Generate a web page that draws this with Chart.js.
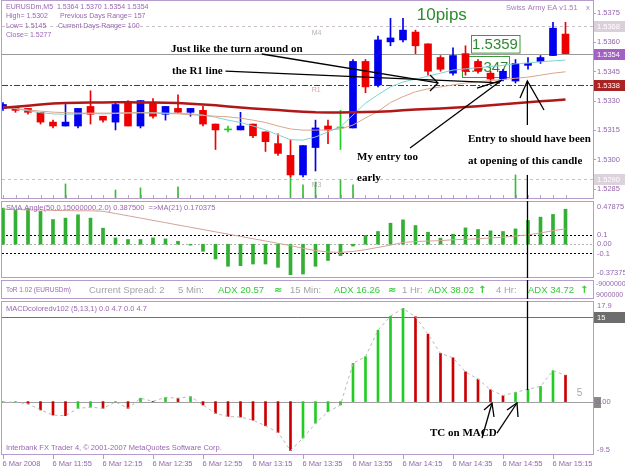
<!DOCTYPE html>
<html><head><meta charset="utf-8">
<script src="https://cdn.jsdelivr.net/npm/chart.js@4.4.1/dist/chart.umd.min.js"></script>
<style>
html,body{margin:0;padding:0;background:#fff;}
body{width:625px;height:469px;position:relative;overflow:hidden;}
canvas{position:absolute;left:0;}
</style></head><body>
<canvas id="cMain" width="625" height="200" style="top:0px"></canvas>
<canvas id="cSma" width="625" height="79" style="top:200px"></canvas>
<canvas id="cTor" width="625" height="21" style="top:279px"></canvas>
<canvas id="cMacd" width="625" height="169" style="top:300px"></canvas>
<script>
// ================= DATA =================
const timeLabels = ['6 Mar 2008','6 Mar 11:55','6 Mar 12:15','6 Mar 12:35','6 Mar 12:55','6 Mar 13:15','6 Mar 13:35','6 Mar 13:55','6 Mar 14:15','6 Mar 14:35','6 Mar 14:55','6 Mar 15:15'];
const timeLabelBars = [0,4,8,12,16,20,24,28,32,36,40,44];

const opens  = [1.5326,1.5327,1.5326,1.5324,1.5319,1.5317,1.5317,1.5327,1.5322,1.5319,1.5329,1.5317,1.5329,1.5323,1.5326,1.5324,1.5325,1.5318,1.5315,1.5315,1.5318,1.5314,1.5308,1.5302,1.5292,1.5306,1.5317,1.5316,1.5316,1.5350,1.5338,1.5360,1.5361,1.5365,1.5359,1.5352,1.5344,1.5354,1.5350,1.5344,1.5341,1.5340,1.5348,1.5350,1.5353,1.5364];
const highs  = [1.5329,1.5327,1.5326,1.5324,1.5320,1.5328,1.5326,1.5335,1.5322,1.5329,1.5330,1.5330,1.5331,1.5327,1.5333,1.5326,1.5327,1.5318,1.5317,1.5324,1.5318,1.5314,1.5313,1.5310,1.5307,1.5320,1.5320,1.5325,1.5351,1.5351,1.5363,1.5372,1.5372,1.5366,1.5359,1.5353,1.5357,1.5358,1.5351,1.5345,1.5346,1.5351,1.5352,1.5353,1.5370,1.5370];
const lows   = [1.5325,1.5324,1.5323,1.5318,1.5316,1.5317,1.5316,1.5318,1.5319,1.5315,1.5317,1.5316,1.5321,1.5320,1.5324,1.5322,1.5317,1.5305,1.5314,1.5315,1.5311,1.5304,1.5302,1.5291,1.5291,1.5294,1.5308,1.5305,1.5316,1.5334,1.5337,1.5358,1.5360,1.5354,1.5343,1.5345,1.5343,1.5343,1.5344,1.5339,1.5340,1.5339,1.5346,1.5349,1.5353,1.5354];
const closes = [1.5328,1.5325,1.5324,1.5319,1.5317,1.5319,1.5326,1.5323,1.5320,1.5328,1.5317,1.5330,1.5322,1.5327,1.5324,1.5326,1.5318,1.5315,1.5315,1.5317,1.5312,1.5309,1.5303,1.5292,1.5307,1.5316,1.5315,1.5316,1.5350,1.5337,1.5361,1.5362,1.5366,1.5358,1.5345,1.5346,1.5353,1.5345,1.5345,1.5341,1.5345,1.5349,1.5349,1.5352,1.5367,1.5354];

const maSlow = [1.53263,1.53268,1.53274,1.53280,1.53285,1.53288,1.53289,1.53290,1.53290,1.53291,1.53291,1.53290,1.53290,1.53289,1.53288,1.53284,1.53280,1.53276,1.53270,1.53265,1.53260,1.53256,1.53252,1.53247,1.53243,1.53240,1.53239,1.53239,1.53240,1.53241,1.53243,1.53246,1.53250,1.53254,1.53257,1.53260,1.53263,1.53267,1.53271,1.53276,1.53281,1.53286,1.53291,1.53296,1.53301,1.53306];
const maMid  = [1.53267,1.53260,1.53252,1.53246,1.53241,1.53238,1.53236,1.53236,1.53236,1.53236,1.53238,1.53238,1.53236,1.53234,1.53232,1.53228,1.53224,1.53220,1.53217,1.53210,1.53200,1.53188,1.53170,1.53155,1.53149,1.53149,1.53150,1.53155,1.53175,1.53211,1.53245,1.53290,1.53320,1.53345,1.53360,1.53370,1.53380,1.53390,1.53396,1.53402,1.53408,1.53414,1.53420,1.53430,1.53440,1.53447];
const maFast = [1.53267,1.53258,1.53248,1.53238,1.53232,1.53230,1.53232,1.53234,1.53232,1.53234,1.53236,1.53238,1.53238,1.53236,1.53235,1.53232,1.53226,1.53215,1.53200,1.53188,1.53170,1.53150,1.53125,1.53100,1.53098,1.53114,1.53140,1.53166,1.53226,1.53287,1.53330,1.53370,1.53395,1.53410,1.53425,1.53440,1.53456,1.53462,1.53468,1.53474,1.53480,1.53488,1.53492,1.53498,1.53503,1.53507];

const greenMarkBars = [5,9,11,14,23,24,25,27,28,41];
const greenMarkTops = [1.52874,1.52843,1.52854,1.52859,1.52920,1.52869,1.52884,1.52895,1.52869,1.52920];

const priceTicks = [1.5375,1.5360,1.5345,1.5330,1.5315,1.5300,1.5285];
const priceMarkers = [1.5368,1.5354,1.5338,1.5290];

const smaAngle   = [0.40,0.374,0.393,0.363,0.274,0.289,0.326,0.289,0.178,0.070,0.052,0.052,0.070,0.059,0.033,-0.01,-0.078,-0.163,-0.244,-0.237,-0.219,-0.219,-0.256,-0.337,-0.330,-0.244,-0.18,-0.126,-0.02,0.096,0.141,0.233,0.27,0.207,0.133,0.067,0.111,0.181,0.163,0.148,0.141,0.170,0.263,0.30,0.33,0.3875];
const smaAngleMA = [0.39,0.385,0.38,0.378,0.375,0.372,0.37,0.37,0.365,0.34,0.315,0.29,0.264,0.239,0.213,0.188,0.163,0.137,0.112,0.087,0.061,0.036,0.01,-0.015,-0.045,-0.07,-0.085,-0.09,-0.08,-0.06,-0.035,-0.01,0.02,0.03,0.035,0.04,0.05,0.055,0.06,0.07,0.078,0.09,0.104,0.125,0.15,0.170375];
const smaTicks = [0.1,0.0,-0.1];

const macd = [-0.1,-0.1,-0.4,-1.5,-2.4,-2.5,-1.2,-1.0,-1.2,-0.05,-1.2,0.6,0.05,0.75,0.6,0.9,-0.6,-2.1,-2.65,-2.75,-3.3,-4.3,-5.5,-8.7,-6.5,-3.85,-1.8,-0.6,6.8,8.0,12.7,15.2,16.6,15.1,12.0,8.6,7.8,5.3,4.0,2.1,1.07,1.66,2.2,2.7,5.5,4.7];

// ================= STYLE / LAYOUT =================
const X_MIN = -0.08, X_MAX = 47.2;
const PRICE_MIN = 1.52797, PRICE_MAX = 1.53814;
const FONT = '"Liberation Sans", Arial, sans-serif';
const SERIF = '"Liberation Serif", "Times New Roman", serif';
const AXIS_COL = '#9466ad';
const BORDER_COL = '#b79bca';
const BULL = '#0000ee', BEAR = '#ee0000', DOJI = '#22cc22';
const ENTRY_BAR = 41.95;

function T(ctx, s, x, y, font, col, align, base){
  ctx.save(); ctx.font = font; ctx.fillStyle = col; ctx.textAlign = align || 'left';
  ctx.textBaseline = base || 'middle'; ctx.fillText(s, x, y); ctx.restore();
}
function L(ctx, pts, col, w, dash){
  ctx.save(); ctx.beginPath(); ctx.strokeStyle = col; ctx.lineWidth = w || 1; ctx.setLineDash(dash || []);
  pts.forEach((p,k)=> k ? ctx.lineTo(p[0],p[1]) : ctx.moveTo(p[0],p[1])); ctx.stroke(); ctx.restore();
}
function border(c){
  const a = c.chartArea, ctx = c.ctx;
  ctx.save(); ctx.strokeStyle = BORDER_COL; ctx.lineWidth = 1;
  ctx.strokeRect(a.left - 0.5, a.top + 0.5, a.right - a.left + 1, a.bottom - a.top - 1);
  ctx.fillStyle = BORDER_COL; ctx.fillRect(a.left - 1, a.top, 1, a.bottom - a.top);
  ctx.restore();
}
function box(ctx, y, txt, bg, fg){
  ctx.save(); ctx.fillStyle = bg; ctx.fillRect(594, Math.round(y) - 5, 31, 11); ctx.restore();
  T(ctx, txt, 597, Math.round(y) + 0.5, '7.5px ' + FONT, fg);
}
function common(padTop, padBottom, ymin, ymax){
  return {
    responsive:false, animation:false, devicePixelRatio:1, events:[],
    layout:{padding:{left:2,right:32,top:padTop,bottom:padBottom}},
    plugins:{legend:{display:false},tooltip:{enabled:false},title:{display:false}},
    scales:{
      x:{type:'linear',min:X_MIN,max:X_MAX,display:false,offset:false},
      y:{type:'linear',min:ymin,max:ymax,display:false}
    }
  };
}
const idx = opens.map((_, i) => i);
const candleCol = idx.map(i => closes[i] > opens[i] ? BULL : (closes[i] < opens[i] ? BEAR : DOJI));

// ================= MAIN PRICE PANEL =================
const mainPlugin = {
  id:'mainPlugin',
  beforeDatasetsDraw(c){
    const ctx = c.ctx, a = c.chartArea, X = v => c.scales.x.getPixelForValue(v), Y = v => Math.round(c.scales.y.getPixelForValue(v)) + 0.5;
    L(ctx, [[a.left, Y(1.5368)], [a.right, Y(1.5368)]], '#c9c0c9', 1, [3,3]);
    L(ctx, [[a.left, Y(1.5354)], [a.right, Y(1.5354)]], '#9a9a9a', 1);
    L(ctx, [[a.left, Y(1.5338)], [a.right, Y(1.5338)]], '#8b2020', 1, [6,2,2,2]);
    L(ctx, [[a.left, Y(1.5290)], [a.right, Y(1.5290)]], '#c9c0c9', 1, [3,3]);
    T(ctx, 'M4', X(24.7), Y(1.5368) + 7, '7px ' + FONT, '#b8b0b8');
    T(ctx, 'R1', X(24.7), Y(1.5338) + 5, '7px ' + FONT, '#d9a3a3');
    T(ctx, 'M3', X(24.7), Y(1.5290) + 6, '7px ' + FONT, '#b8b0b8');
    ctx.save(); ctx.strokeStyle = '#3d9b3d'; ctx.lineWidth = 1;
    const bx1 = X(36.72), bx2 = X(40.48), by1 = Y(1.53528), by2 = Y(1.53421);
    ctx.strokeRect(Math.round(bx1)+0.5, by1, bx2 - bx1, by2 - by1); ctx.restore();
    T(ctx, '1.5347', (bx1 + bx2) / 2, (by1 + by2) / 2 + 1, '15px ' + FONT, '#2f8a2f', 'center');
    idx.forEach(i => L(ctx, [[Math.round(X(i)) + 0.5, a.bottom - 4], [Math.round(X(i)) + 0.5, a.bottom]], '#b5a5c5', 1));
  },
  afterDraw(c){
    const ctx = c.ctx, a = c.chartArea, X = v => c.scales.x.getPixelForValue(v), Y = v => c.scales.y.getPixelForValue(v);
    border(c);
    priceTicks.forEach(v => {
      L(ctx, [[a.right, Math.round(Y(v)) + 0.5], [a.right + 3, Math.round(Y(v)) + 0.5]], BORDER_COL, 1);
      T(ctx, v.toFixed(4), 597, Y(v) + 0.5, '7.5px ' + FONT, AXIS_COL);
    });
    box(ctx, Y(priceMarkers[0]), priceMarkers[0].toFixed(4), '#dccfdc', '#ffffff');
    box(ctx, Y(priceMarkers[1]), priceMarkers[1].toFixed(4), '#a361c6', '#ffffff');
    box(ctx, Y(priceMarkers[2]), priceMarkers[2].toFixed(4), '#a82424', '#ffffff');
    box(ctx, Y(priceMarkers[3]), priceMarkers[3].toFixed(4), '#dcd2dc', '#ffffff');
    const f7 = '7px ' + FONT, pc = '#9966b0';
    T(ctx, 'EURUSDm,M5  ' + [opens[45], highs[45], lows[45], closes[45]].map(v => v.toFixed(4)).join(' '), 6, 7, f7, pc);
    T(ctx, 'High= 1.5302', 6, 16.5, f7, pc);  T(ctx, 'Previous Days Range= 157', 60, 16.5, f7, pc);
    T(ctx, 'Low= 1.5145', 6, 26, f7, pc);   T(ctx, 'Current Days Range= 100', 58, 26, f7, pc);
    T(ctx, 'Close= 1.5277', 6, 35.5, f7, pc);
    T(ctx, 'Swiss Army EA v1.51', 506, 8, '7.5px ' + FONT, '#a77bbd');
    T(ctx, 'x', 586, 8, '7.5px ' + FONT, '#a77bbd');
    T(ctx, '10pips', X(33.1), Y(1.53737), '17px ' + FONT, '#2e8b2e');
    ctx.save(); const b1 = X(37.42), b2 = X(41.3), t1 = Y(1.53635), t2 = Y(1.53545);
    ctx.fillStyle = '#ffffff'; ctx.fillRect(b1, t1, b2 - b1, t2 - t1);
    ctx.strokeStyle = '#3d9b3d'; ctx.lineWidth = 1; ctx.strokeRect(Math.round(b1)+0.5, Math.round(t1)+0.5, b2 - b1, t2 - t1); ctx.restore();
    T(ctx, '1.5359', (b1 + b2) / 2, (t1 + t2) / 2 + 1, '15px ' + FONT, '#2f8a2f', 'center');
    const sf = 'bold 11px ' + SERIF, k = '#000';
    T(ctx, 'Just like the turn around on', X(13.44), Y(1.53563), sf, k);
    T(ctx, 'the R1 line', X(13.52), Y(1.53451), sf, k);
    T(ctx, 'My entry too', X(28.32), Y(1.53012), sf, k);
    T(ctx, 'early', X(28.32), Y(1.52905), sf, k);
    T(ctx, 'Entry to should have been', X(37.2), Y(1.53104), sf, k);
    T(ctx, 'at opening of this candle', X(37.2), Y(1.52992), sf, k);
    const P = (i, p) => [X(i), Y(p)];
    L(ctx, [P(20.7, 1.53538), P(34.8, 1.53390)], k, 1.3);
    L(ctx, [P(34.16, 1.53431), P(34.8, 1.53390), P(34.16, 1.53349)], k, 1.3);
    L(ctx, [P(17.8, 1.53451), P(39.76, 1.53390)], k, 1.3);
    L(ctx, [P(32.56, 1.53058), P(39.92, 1.53405)], k, 1.3);
    L(ctx, [P(37.92, 1.53364), P(39.92, 1.53405)], k, 1.3);
    L(ctx, [P(41.36, 1.53313), P(ENTRY_BAR, 1.53400), P(43.28, 1.53252)], k, 1.3);
    L(ctx, [P(ENTRY_BAR, 1.53400), P(ENTRY_BAR, 1.53175)], k, 1.3);
    L(ctx, [P(ENTRY_BAR, 1.52920), [X(ENTRY_BAR), a.bottom]], k, 1.3);
  }
};
new Chart(document.getElementById('cMain'), {
  type:'bar',
  data:{datasets:[
    {type:'line', data: idx.map(i => ({x:i, y:maSlow[i]})), borderColor:'#b01818', borderWidth:2.5, pointRadius:0, order:0},
    {type:'line', data: idx.map(i => ({x:i, y:maMid[i]})), borderColor:'#d9a58c', borderWidth:1, pointRadius:0, order:1},
    {type:'line', data: idx.map(i => ({x:i, y:maFast[i]})), borderColor:'#7fd3d3', borderWidth:1, pointRadius:0, order:1},
    {data: greenMarkBars.map((b, j) => ({x:b, y:[PRICE_MIN, greenMarkTops[j]]})), backgroundColor:'#3cb83c', barThickness:1, grouped:false, order:5},
    {data: idx.map(i => ({x:i, y:[lows[i], highs[i]]})), backgroundColor: candleCol, barThickness:1, grouped:false, order:4},
    {data: idx.map(i => ({x:i, y:[opens[i], closes[i]]})), backgroundColor: candleCol, barThickness:7, minBarLength:1, grouped:false, order:3}
  ]},
  options: common(0, 1, PRICE_MIN, PRICE_MAX),
  plugins:[mainPlugin]
});

// ================= SMA ANGLE PANEL =================
const smaPlugin = {
  id:'smaPlugin',
  beforeDatasetsDraw(c){
    const ctx = c.ctx, a = c.chartArea, Y = v => Math.round(c.scales.y.getPixelForValue(v)) + 0.5;
    L(ctx, [[a.left, Y(smaTicks[0])], [a.right, Y(smaTicks[0])]], '#000', 1, [2,2]);
    L(ctx, [[a.left, Y(smaTicks[1])], [a.right, Y(smaTicks[1])]], '#b0b0b0', 1, [2,2]);
    L(ctx, [[a.left, Y(smaTicks[2])], [a.right, Y(smaTicks[2])]], '#000', 1, [2,2]);
  },
  afterDraw(c){
    const ctx = c.ctx, a = c.chartArea, X = v => c.scales.x.getPixelForValue(v), Y = v => c.scales.y.getPixelForValue(v);
    border(c);
    const f = '7.5px ' + FONT;
    T(ctx, c.scales.y.max.toFixed(5), 597, a.top + 6, f, AXIS_COL);
    T(ctx, '0.1', 597, Y(smaTicks[0]), f, AXIS_COL);
    T(ctx, '0.00', 597, Y(smaTicks[1]), f, AXIS_COL);
    T(ctx, '-0.1', 597, Y(smaTicks[2]) + 1, f, AXIS_COL);
    T(ctx, c.scales.y.min.toFixed(5), 597, a.bottom - 5, f, AXIS_COL);
    T(ctx, 'SMA Angle(50,0.15000000,2.0) ' + smaAngle[45].toFixed(6) + '  =>MA(21) ' + smaAngleMA[45].toFixed(6), 6, a.top + 7, f, '#9966b0');
    L(ctx, [[Math.round(X(ENTRY_BAR)) + 0.5, a.top], [Math.round(X(ENTRY_BAR)) + 0.5, a.bottom]], '#000', 1.3);
  }
};
new Chart(document.getElementById('cSma'), {
  type:'bar',
  data:{datasets:[
    {type:'line', data: idx.map(i => ({x:i, y:smaAngleMA[i]})), borderColor:'#d4a39a', borderWidth:1, pointRadius:0, order:0},
    {data: idx.map(i => ({x:i, y:smaAngle[i]})), backgroundColor:'#33b033', barThickness:3, grouped:false, order:1}
  ]},
  options: common(1, 1, -0.37375, 0.47875),
  plugins:[smaPlugin]
});

// ================= ToR PANEL =================
const torPlugin = {
  id:'torPlugin',
  afterDraw(c){
    const ctx = c.ctx, a = c.chartArea, X = v => c.scales.x.getPixelForValue(v);
    border(c);
    const y = (a.top + a.bottom) / 2 + 1, g = '#a3a3a3', gr = '#33cc33', f = '9.5px ' + FONT;
    T(ctx, 'ToR 1.02 (EURUSDm)', 6, y, '6.5px ' + FONT, '#9966b0');
    T(ctx, 'Current Spread: 2', 89, y, f, g);
    T(ctx, '5 Min:', 178, y, f, g);
    T(ctx, 'ADX 20.57', 218, y, f, gr);
    T(ctx, '\u2248', 274, y, 'bold 10px "DejaVu Sans"', gr);
    T(ctx, '15 Min:', 290, y, f, g);
    T(ctx, 'ADX 16.26', 334, y, f, gr);
    T(ctx, '\u2248', 388, y, 'bold 10px "DejaVu Sans"', gr);
    T(ctx, '1 Hr:', 402, y, f, g);
    T(ctx, 'ADX 38.02', 428, y, f, gr);
    T(ctx, '\u2191', 478, y, 'bold 10px "DejaVu Sans"', gr);
    T(ctx, '4 Hr:', 496, y, f, g);
    T(ctx, 'ADX 34.72', 528, y, f, gr);
    T(ctx, '\u2191', 580, y, 'bold 10px "DejaVu Sans"', gr);
    T(ctx, '-9000000', 596, a.top + 4, '7px ' + FONT, AXIS_COL);
    T(ctx, '9000000', 596, a.bottom - 4, '7px ' + FONT, AXIS_COL);
    L(ctx, [[Math.round(X(ENTRY_BAR)) + 0.5, a.top], [Math.round(X(ENTRY_BAR)) + 0.5, a.bottom]], '#000', 1.3);
  }
};
new Chart(document.getElementById('cTor'), {
  type:'bar',
  data:{datasets:[{data:[]}]},
  options: common(1, 1, 0, 1),
  plugins:[torPlugin]
});

// ================= MACD PANEL =================
const macdCol = macd.map((v, i) => (i === 0 || v >= macd[i - 1]) ? '#22cc22' : '#cc0000');
const macdPlugin = {
  id:'macdPlugin',
  beforeDatasetsDraw(c){
    const ctx = c.ctx, a = c.chartArea, Y = v => Math.round(c.scales.y.getPixelForValue(v)) + 0.5;
    L(ctx, [[a.left, Y(15)], [a.right, Y(15)]], '#707070', 1);
    L(ctx, [[a.left, Y(0)], [a.right, Y(0)]], '#a0a0a0', 1);
  },
  afterDraw(c){
    const ctx = c.ctx, a = c.chartArea, X = v => c.scales.x.getPixelForValue(v), Y = v => c.scales.y.getPixelForValue(v);
    border(c);
    const f = '7.5px ' + FONT;
    T(ctx, c.scales.y.max.toFixed(1), 597, a.top + 5, f, AXIS_COL);
    box(ctx, Y(15), '15', '#6d6d6d', '#ffffff');
    ctx.save(); ctx.fillStyle = '#8a8a8a'; ctx.fillRect(594, Math.round(Y(0)) - 5, 7, 11); ctx.restore();
    T(ctx, '0.00', 596, Y(0) + 0.5, f, AXIS_COL);
    T(ctx, c.scales.y.min.toFixed(1), 597, a.bottom - 5, f, AXIS_COL);
    T(ctx, 'MACDcoloredv102 (5,13,1) 0.0 ' + macd[45].toFixed(1) + ' 0.0 ' + macd[45].toFixed(1), 6, a.top + 8, f, '#9966b0');
    T(ctx, '5', X(45.9), Y(1.45), '10px ' + FONT, '#a8a8a8');
    T(ctx, 'Interbank FX Trader 4, \u00a9 2001-2007 MetaQuotes Software Corp.', 6, a.bottom - 7, f, '#9966b0');
    timeLabelBars.forEach((b, j) => {
      const x = Math.round(X(b)) + 0.5;
      L(ctx, [[x, a.bottom], [x, a.bottom + 4]], BORDER_COL, 1);
      T(ctx, timeLabels[j], x - 1, a.bottom + 9, f, AXIS_COL);
    });
    const k = '#000', P = (i, v) => [X(i), Y(v)];
    T(ctx, 'TC on MACD', X(34.16), Y(-5.59), 'bold 11px ' + SERIF, k);
    L(ctx, [P(38.32, -6.48), P(39.12, -0.25)], k, 1.3);
    L(ctx, [P(38.48, -1.49), P(39.12, -0.25), P(39.28, -2.74)], k, 1.3);
    L(ctx, [P(39.52, -5.59), P(41.12, -0.25)], k, 1.3);
    L(ctx, [P(40.32, -1.49), P(41.12, -0.25), P(41.2, -2.74)], k, 1.3);
    L(ctx, [[Math.round(X(ENTRY_BAR)) + 0.5, a.top], [Math.round(X(ENTRY_BAR)) + 0.5, Y(2.06)]], k, 1.3);
  }
};
new Chart(document.getElementById('cMacd'), {
  type:'bar',
  data:{datasets:[
    {type:'line', data: idx.map(i => ({x:i, y:macd[i]})), borderColor:'#b8b8b8', borderWidth:1, borderDash:[3,3], pointRadius:0, order:0},
    {data: idx.map(i => ({x:i, y:macd[i]})), backgroundColor: macdCol, barThickness:2, grouped:false, order:1}
  ]},
  options: common(1, 14, -9.5, 17.9),
  plugins:[macdPlugin]
});
</script>
</body></html>
